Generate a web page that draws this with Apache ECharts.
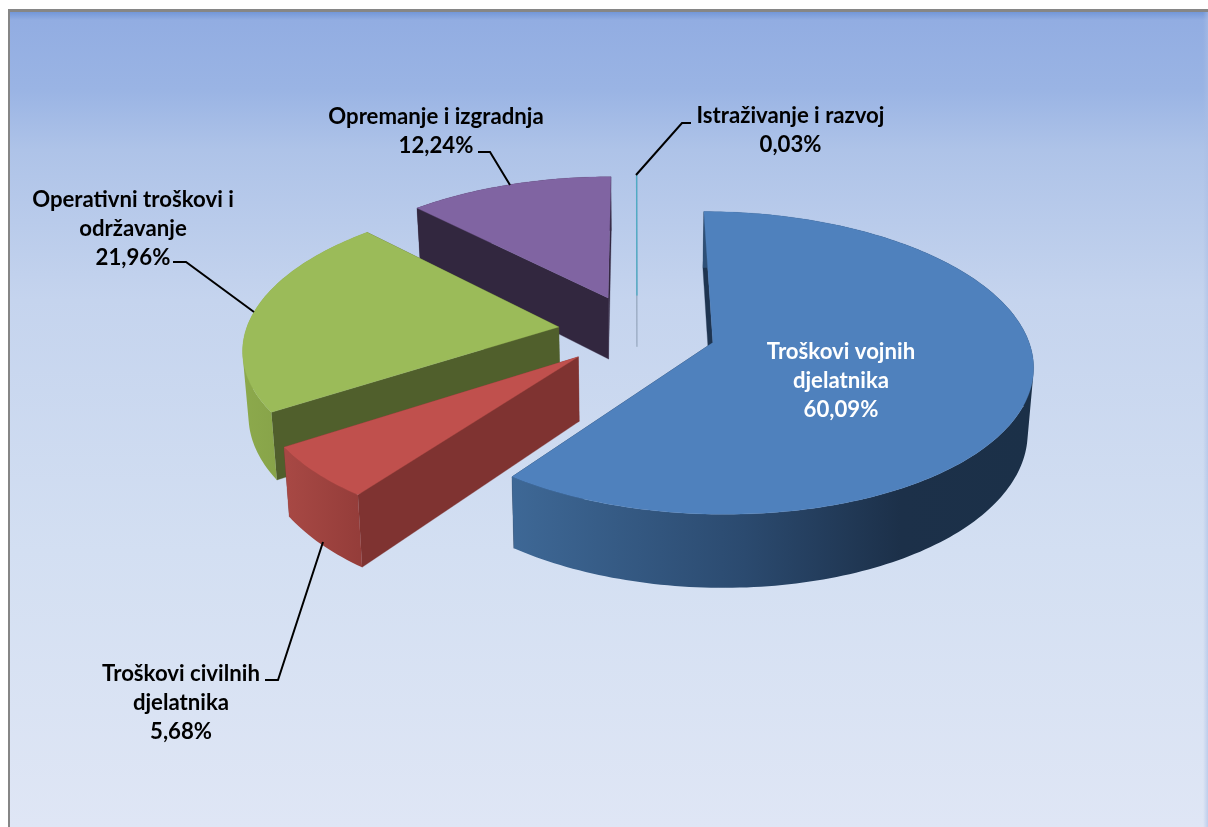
<!DOCTYPE html>
<html>
<head>
<meta charset="utf-8">
<title>Troškovi</title>
<script src="https://cdn.jsdelivr.net/npm/echarts@6/dist/echarts.min.js"></script>
<style>
html, body { margin: 0; padding: 0; background: #fff; }
#chart { width: 1208px; height: 827px; }
</style>
</head>
<body>
<div id="chart"></div>
<script>
// podaci
var names = ['Troškovi vojnih\ndjelatnika', 'Troškovi civilnih\ndjelatnika', 'Operativni troškovi i\nodržavanje', 'Opremanje i izgradnja', 'Istraživanje i razvoj'];
var shares = [60.09, 5.68, 21.96, 12.24, 0.03];
var shareLabels = ['60,09%', '5,68%', '21,96%', '12,24%', '0,03%'];

// boje
var topColors = ['#4f81bd', '#c0504d', '#9bbb59', '#8064a2', '#4bacc6'];
var faceColors = ['#1e3450', '#7f3331', '#505f2c', '#32273f', '#8d9db0'];
var rimStops = [
    [512, 1030, [[0, '#3e6896'], [0.45, '#2b4a6f'], [0.75, '#1c3049'], [1, '#1b3048']]],
    [288, 366, [[0, '#a74844'], [1, '#933c39']]],
    [244, 290, [[0, '#8ca94c'], [1, '#86a248']]],
    [416, 610, [[0, '#32273f'], [1, '#32273f']]],
    [636, 638, [[0, '#8d9db0'], [1, '#8d9db0']]]
];

// izgled: centar, polumjer, razmak, visina, perspektiva
var CX = 637, CY = 331, R = 313, EXPLODE = 79, TILT = 0.465, PERSP = 2354, BASE_SHRINK = 0.985;
var depths = [63, 63, 63, 63, 53];
var labelPos = [[841, 352], [181, 674], [133, 200], [436, 117], [790.5, 116]];
var leaders = [
    null,
    [[323, 542], [278, 680], [265, 680]],
    [[254, 312], [186, 262], [173, 262]],
    [[510, 185], [490, 152], [478, 152]],
    [[636, 175], [682, 123], [691, 123]]
];
var drawOrder = [4, 3, 2, 1, 0];

function project(x, y, z) {
    var s = PERSP / (PERSP + y);
    var k = z > 0 ? BASE_SHRINK : 1;
    return [CX + x * s * k, CY - y * TILT * s + z * s];
}

var total = shares.reduce(function (a, b) { return a + b; }, 0);

function sliceAngles(i) {
    var from = 0;
    for (var k = 0; k < i; k++) from += shares[k];
    return [from / total * Math.PI * 2, (from + shares[i]) / total * Math.PI * 2];
}

function rimPoints(i, ox, oy, z) {
    var a = sliceAngles(i), pts = [];
    var n = Math.max(2, Math.ceil((a[1] - a[0]) / 0.02));
    for (var k = 0; k <= n; k++) {
        var t = a[0] + (a[1] - a[0]) * k / n;
        pts.push(project(ox + R * Math.sin(t), oy + R * Math.cos(t), z));
    }
    return pts;
}

// cetverokuti ruba u jednom putu, svi istog smjera, da nema sivih spojeva
function rimPath(top, low) {
    var d = '';
    for (var k = 0; k < top.length - 1; k++) {
        var q = [top[k], top[k + 1], low[k + 1], low[k]];
        var area = 0;
        for (var m = 0; m < 4; m++) {
            var p1 = q[m], p2 = q[(m + 1) % 4];
            area += p1[0] * p2[1] - p2[0] * p1[1];
        }
        if (area < 0) q.reverse();
        d += 'M' + q.map(function (p) { return p[0].toFixed(2) + ' ' + p[1].toFixed(2); }).join('L') + 'Z';
    }
    return d;
}

function renderSlice(params, api) {
    var i = api.value(0);
    var a = sliceAngles(i), mid = (a[0] + a[1]) / 2;
    var ox = EXPLODE * Math.sin(mid), oy = EXPLODE * Math.cos(mid);
    var top = rimPoints(i, ox, oy, 0), low = rimPoints(i, ox, oy, depths[i]);
    var apex = project(ox, oy, 0), apexLow = project(ox, oy, depths[i]);
    var last = top.length - 1;
    var children = [];
    var poly = function (points, fill, width) {
        children.push({
            type: 'polygon',
            shape: { points: points },
            style: { fill: fill, stroke: fill, lineWidth: width }
        });
    };
    // unutarnje stranice
    poly([apex, top[last], low[last], apexLow], faceColors[i], 0.3);
    poly([apex, top[0], low[0], apexLow], faceColors[i], 0.3);
    // vanjski rub
    var rs = rimStops[i];
    children.push({
        type: 'path',
        shape: { pathData: rimPath(top, low) },
        style: {
            fill: new echarts.graphic.LinearGradient(rs[0], 0, rs[1], 0,
                rs[2].map(function (s) { return { offset: s[0], color: s[1] }; }), true)
        }
    });
    // gornja ploha
    poly([apex].concat(top), topColors[i], i === 4 ? 0.8 : 0.3);
    // oznake
    if (leaders[i]) {
        children.push({
            type: 'polyline',
            shape: { points: leaders[i] },
            style: { fill: null, stroke: '#000', lineWidth: 2 }
        });
    }
    var txt = names[i].split('\n').concat(shareLabels[i]);
    txt.forEach(function (line, n) {
        children.push({
            type: 'text',
            style: {
                text: line,
                x: labelPos[i][0],
                y: labelPos[i][1] + n * 29,
                align: 'center',
                verticalAlign: 'middle',
                fill: i === 0 ? '#fff' : '#000',
                font: 'bold 22.2px Lato, "Open Sans", sans-serif'
            }
        });
    });
    return { type: 'group', children: children };
}

var bgStops = [[12, '#7397d8'], [20, '#92ade2'], [90, '#9ab4e4'], [150, '#aec3e8'], [300, '#c5d4ee'], [550, '#d3dff2'], [827, '#dfe6f5']];

var chart = echarts.init(document.getElementById('chart'));
chart.setOption({
    animation: false,
    graphic: [
        {
            type: 'rect', z: -3, silent: true,
            shape: { x: 10, y: 12, width: 1198, height: 815 },
            style: {
                fill: new echarts.graphic.LinearGradient(0, 0, 0, 1, bgStops.map(function (s) {
                    return { offset: (s[0] - 12) / 815, color: s[1] };
                }))
            }
        },
        {
            type: 'rect', z: -2, silent: true,
            shape: { x: 1203, y: 12, width: 5, height: 815 },
            style: {
                fill: new echarts.graphic.LinearGradient(0, 0, 1, 0, [
                    { offset: 0, color: 'rgba(170,190,228,0)' },
                    { offset: 1, color: 'rgba(170,190,228,0.6)' }
                ])
            }
        },
        { type: 'rect', z: -1, silent: true, shape: { x: 8, y: 9, width: 1200, height: 3 }, style: { fill: '#868686' } },
        { type: 'rect', z: -1, silent: true, shape: { x: 8, y: 9, width: 2, height: 818 }, style: { fill: '#868686' } }
    ],
    series: [{
        type: 'custom',
        coordinateSystem: 'none',
        silent: true,
        clip: false,
        renderItem: renderSlice,
        data: drawOrder.map(function (i) { return [i, shares[i]]; })
    }]
});
</script>
</body>
</html>
